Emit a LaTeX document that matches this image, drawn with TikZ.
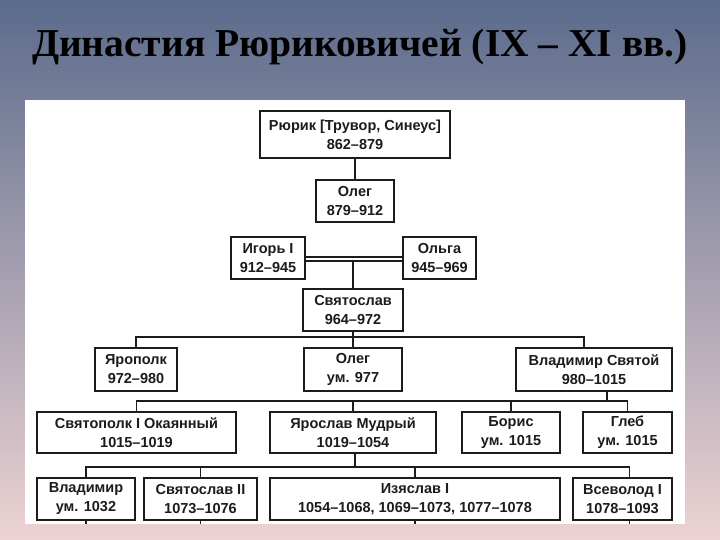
\documentclass[tikz,border=0pt]{standalone}
\usepackage{fontspec}
\setmainfont{Liberation Serif}
\newfontfamily\boxfont{Liberation Sans}
\usetikzlibrary{positioning,calc}
\definecolor{ink}{HTML}{1C1C1C}
\definecolor{bgtop}{HTML}{5B6B8C}
\definecolor{bgmid}{HTML}{B9A7B9}
\definecolor{bgbot}{HTML}{EDD3D3}
\tikzset{
  treebox/.style={rectangle,draw=ink,line width=2pt,fill=white,text=ink,align=center,
    font=\boxfont\bfseries\fontsize{14.5}{19}\selectfont,
    minimum height=42pt,inner sep=1pt},
  treeline/.style={line width=1.6pt,color=ink},
  titletext/.style={font=\bfseries\fontsize{39.5}{44}\selectfont,text=black},
}

\begin{document}
\begin{tikzpicture}[x=1pt,y=-1pt]
  \useasboundingbox (0,0) rectangle (720,540);
  \shade[top color=bgtop,middle color=bgmid,bottom color=bgbot] (0,0) rectangle (720,540);
  \fill[white] (25,100) rectangle (685,524);

  \node[titletext] (title) at (360,47) {Династия Рюриковичей (IX – XI вв.)};

  \node[treebox,minimum width=190pt,minimum height=47pt] (rurik) at (355,134.5) {Рюрик [Трувор, Синеус]\\862–879};
  \node[treebox,minimum width=78pt] (oleg) at (355,201) {Олег\\879–912};
  \node[treebox,minimum width=74pt] (igor) at (268,258) {Игорь I\\912–945};
  \node[treebox,minimum width=73pt] (olga) at (439.5,258) {Ольга\\945–969};
  \node[treebox,minimum width=100pt] (svyat) at (353,310) {Святослав\\964–972};

  \node[treebox,minimum width=82pt,minimum height=43pt] (yaropolk) at (136,369.5) {Ярополк\\972–980};
  \node[treebox,minimum width=98pt,minimum height=43pt] (olegII) at (353,369.5) {Олег\\ум. 977};
  \node[treebox,minimum width=156pt,minimum height=43pt] (vladimir) at (594,369.5) {Владимир Святой\\980–1015};

  \node[treebox,minimum width=199pt,minimum height=41pt] (svyatopolk) at (136.5,432.5) {Святополк I Окаянный\\1015–1019};
  \node[treebox,minimum width=166pt,minimum height=41pt] (yaroslav) at (353,432.5) {Ярослав Мудрый\\1019–1054};
  \node[treebox,minimum width=98pt,minimum height=41pt] (boris) at (511,432.5) {Борис\\ум. 1015};
  \node[treebox,minimum width=89pt,minimum height=41pt] (gleb) at (627.5,432.5) {Глеб\\ум. 1015};

  \node[treebox,minimum width=98pt] (vladimirII) at (86,499) {Владимир\\ум. 1032};
  \node[treebox,minimum width=113pt] (svyatII) at (200.5,499) {Святослав II\\1073–1076};
  \node[treebox,minimum width=290pt] (izyaslav) at (415,499) {Изяслав I\\1054–1068, 1069–1073, 1077–1078};
  \node[treebox,minimum width=99pt] (vsevolod) at (622.5,499) {Всеволод I\\1078–1093};

  \coordinate (wed) at (353,261);
  \coordinate (bus2) at (0,337);
  \coordinate (bus3) at (0,401);
  \coordinate (bus4) at (0,467);
  \coordinate (cut) at (0,524);
  \coordinate (vtop) at ([xshift=-10pt]vladimir.north);
  \coordinate (vbot) at ([xshift=13pt]vladimir.south);
  \coordinate (ystop) at ([xshift=2pt]yaroslav.south);
  \coordinate (vstop) at ([xshift=7pt]vsevolod.north);

  \draw[treeline] (rurik) -- (oleg);
  \draw[treeline] ([yshift=1pt]igor.east) -- ([yshift=1pt]olga.west);
  \draw[treeline] ([yshift=-3pt]igor.east) -- ([yshift=-3pt]olga.west);
  \draw[treeline] (wed) -- (svyat.north);

  \draw[treeline] (svyat.south) -- (olegII.north);
  \draw[treeline] (yaropolk.north) |- (vtop |- bus2) -- (vtop);

  \draw[treeline] (svyatopolk.north) |- (gleb.north |- bus3) -- (gleb.north);
  \draw[treeline] (vbot) -- (vbot |- bus3);
  \draw[treeline] (yaroslav.north) -- (yaroslav.north |- bus3);
  \draw[treeline] (boris.north) -- (boris.north |- bus3);

  \draw[treeline] (ystop) -- (ystop |- bus4);
  \draw[treeline] (vladimirII.north) |- (vstop |- bus4) -- (vstop);
  \draw[treeline] (svyatII.north) -- (svyatII.north |- bus4);
  \draw[treeline] (izyaslav.north) -- (izyaslav.north |- bus4);

  \draw[treeline] (vladimirII.south) -- (vladimirII.south |- cut);
  \draw[treeline] (svyatII.south) -- (svyatII.south |- cut);
  \draw[treeline] (izyaslav.south) -- (izyaslav.south |- cut);
  \draw[treeline] (vstop |- vsevolod.south) -- (vstop |- cut);
\end{tikzpicture}
\end{document}
